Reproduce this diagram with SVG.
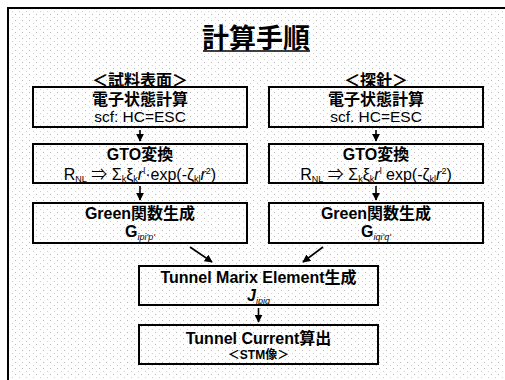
<svg xmlns="http://www.w3.org/2000/svg" width="505" height="380" viewBox="0 0 505 380">
<defs>
<pattern id="dots" width="7" height="6" patternUnits="userSpaceOnUse">
<rect x="1" y="2" width="1" height="1" fill="#b8b8b8"/>
<rect x="5" y="5" width="1" height="1" fill="#cfcfcf"/>
</pattern>
<marker id="ah" viewBox="0 0 10 10" refX="9" refY="5" markerWidth="5" markerHeight="5" orient="auto">
<path d="M0,0 L10,5 L0,10 z" fill="#000"/>
</marker>
</defs>
<style>
.t{font-family:"Liberation Sans","Noto Sans CJK JP",sans-serif;fill:#000;text-anchor:middle}
.b{font-weight:bold}
.box{fill:none;stroke:#000;stroke-width:2}
.sub{font-size:9px}
.con{stroke:#000;stroke-width:1.6;fill:none;marker-end:url(#ah)}
</style>
<rect width="505" height="380" fill="#fff"/>
<rect x="8" y="8" width="497" height="372" fill="url(#dots)"/>
<path d="M8,380 V8 H505" fill="none" stroke="#000" stroke-width="2"/>
<g id="title">
<text class="t b" x="256" y="48" font-size="27">計算手順</text>
<line x1="203" y1="51" x2="310" y2="51" stroke="#000" stroke-width="1.5"/>
</g>
<g id="label-left"><text class="t b" x="140" y="86" font-size="16">＜試料表面＞</text></g>
<g id="label-right"><text class="t b" x="376" y="86" font-size="16">＜探針＞</text></g>

<g id="l1">
<rect class="box" x="33" y="87" width="214" height="40"/>
<text class="t b" x="140" y="105" font-size="16">電子状態計算</text>
<text class="t" x="140" y="122" font-size="15.5">scf: HC=ESC</text>
</g>
<g id="r1">
<rect class="box" x="269" y="87" width="214" height="40"/>
<text class="t b" x="376" y="105" font-size="16">電子状態計算</text>
<text class="t" x="376" y="122" font-size="15.5">scf. HC=ESC</text>
</g>
<g id="l2">
<rect class="box" x="33" y="144" width="214" height="39"/>
<text class="t b" x="140" y="160" font-size="16">GTO変換</text>
<text class="t" x="140" y="180" font-size="16">R<tspan class="sub" dy="2">NL</tspan><tspan dy="-2"> ⇒ Σ</tspan><tspan class="sub" dy="2">k</tspan><tspan dy="-2">ξ</tspan><tspan class="sub" dy="2">k</tspan><tspan dy="-2" font-style="italic">r</tspan><tspan class="sub" dy="-6">l</tspan><tspan dy="6">·exp(-ζ</tspan><tspan class="sub" dy="2">kl</tspan><tspan dy="-2" font-style="italic">r</tspan><tspan class="sub" dy="-6">2</tspan><tspan dy="6">)</tspan></text>
</g>
<g id="r2">
<rect class="box" x="269" y="144" width="214" height="39"/>
<text class="t b" x="376" y="160" font-size="16">GTO変換</text>
<text class="t" x="376" y="180" font-size="16">R<tspan class="sub" dy="2">NL</tspan><tspan dy="-2"> ⇒ Σ</tspan><tspan class="sub" dy="2">k</tspan><tspan dy="-2">ξ</tspan><tspan class="sub" dy="2">k</tspan><tspan dy="-2" font-style="italic">r</tspan><tspan class="sub" dy="-6">l</tspan><tspan dy="6"> exp(-ζ</tspan><tspan class="sub" dy="2">kl</tspan><tspan dy="-2" font-style="italic">r</tspan><tspan class="sub" dy="-6">2</tspan><tspan dy="6">)</tspan></text>
</g>
<g id="l3">
<rect class="box" x="33" y="203" width="214" height="40"/>
<text class="t b" x="140" y="219" font-size="16">Green関数生成</text>
<text class="t b" x="140" y="237" font-size="16">G<tspan class="sub" font-weight="normal" font-style="italic" dy="3">ipi'p'</tspan></text>
</g>
<g id="r3">
<rect class="box" x="269" y="203" width="214" height="40"/>
<text class="t b" x="376" y="219" font-size="16">Green関数生成</text>
<text class="t b" x="376" y="237" font-size="16">G<tspan class="sub" font-weight="normal" font-style="italic" dy="3">iqi'q'</tspan></text>
</g>
<g id="m4">
<rect class="box" x="139" y="266" width="239" height="39"/>
<text class="t b" x="258.5" y="283" font-size="16">Tunnel Marix Element生成</text>
<text class="t b" x="258.5" y="301" font-size="16" font-style="italic">J<tspan class="sub" font-weight="normal" dy="3">ipiq</tspan></text>
</g>
<g id="m5">
<rect class="box" x="139" y="325" width="239" height="39"/>
<text class="t b" x="258.5" y="344" font-size="16">Tunnel Current算出</text>
<text class="t b" x="258.5" y="359" font-size="12">＜STM像＞</text>
</g>
<g id="connectors">
<line class="con" x1="140" y1="130" x2="140" y2="141"/>
<line class="con" x1="376" y1="130" x2="376" y2="141"/>
<line class="con" x1="140" y1="186" x2="140" y2="200"/>
<line class="con" x1="376" y1="186" x2="376" y2="200"/>
<line class="con" x1="190" y1="247" x2="212" y2="262"/>
<line class="con" x1="323" y1="247" x2="303" y2="262"/>
<line class="con" x1="258.5" y1="308" x2="258.5" y2="322"/>
</g>
</svg>
